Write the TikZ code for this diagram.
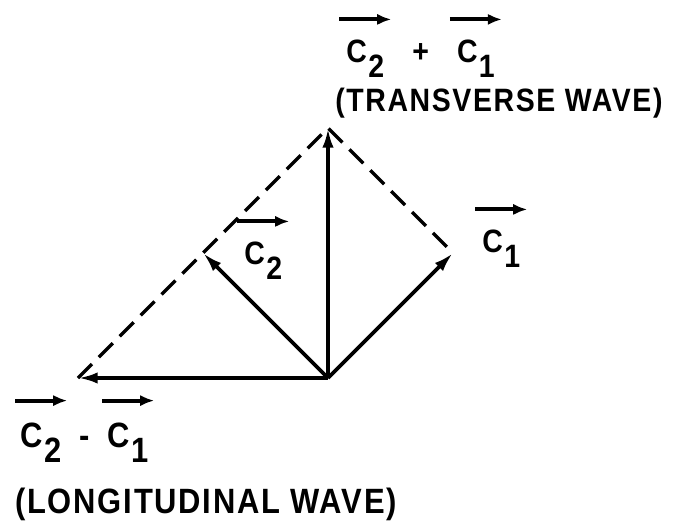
\documentclass[tikz,border=0pt]{standalone}
\usepackage{fontspec}
\setmainfont{Liberation Sans}[FakeStretch=0.88, LetterSpace=5]
\usetikzlibrary{arrows.meta}

\newcommand{\vecC}[1]{\begin{tabular}[b]{@{}c@{}}\tikz\draw[-{Latex[length=10pt,width=8pt]},line width=2.8pt](0,0)--(1.3,0);\\C\kern1pt\raisebox{-.45em}{#1}\end{tabular}}

\begin{document}
\begin{tikzpicture}[
    vec/.style={-{Latex[length=14pt,width=8pt]}, line width=2.6pt},
    dsh/.style={line width=2.4pt, dash pattern=on 14pt off 7pt},
    lbl/.style={inner sep=0pt, anchor=base west, font=\fontsize{23}{27}\selectfont\bfseries}
]
\useasboundingbox (-8.2,-3.625) rectangle (8.75,9.45);
\coordinate (o)    at (0,0);
\coordinate (c1)   at (3.125,3.125);
\coordinate (c2)   at (-3.125,3.125);
\coordinate (sum)  at (0,6.25);
\coordinate (diff) at (-6.25,0);
\draw[dsh] (diff)--(sum)--(c1);
\draw[vec] (o)--(c1); \draw[vec] (o)--(c2); \draw[vec] (o)--(sum); \draw[vec] (o)--(diff);
\node[lbl] (lsum)   at (0.225,7.875)   {\vecC{2}\ \ +\ \ \vecC{1}};
\node[lbl] (ltrans) at (0.175,6.65)    {(TRANSVERSE WAVE)};
\node[lbl] (lc1)    at (3.625,3.125)   {\vecC{1}};
\node[lbl] (lc2)    at (-2.325,2.825)  {\vecC{2}};
\node[lbl, font=\fontsize{25}{29}\selectfont\bfseries] (ldiff) at (-7.875,-1.725) {\vecC{2} - \vecC{1}};
\node[lbl, font=\fontsize{25}{29}\selectfont\bfseries] (llong) at (-7.825,-3.375) {(LONGITUDINAL WAVE)};
\end{tikzpicture}
\end{document}
